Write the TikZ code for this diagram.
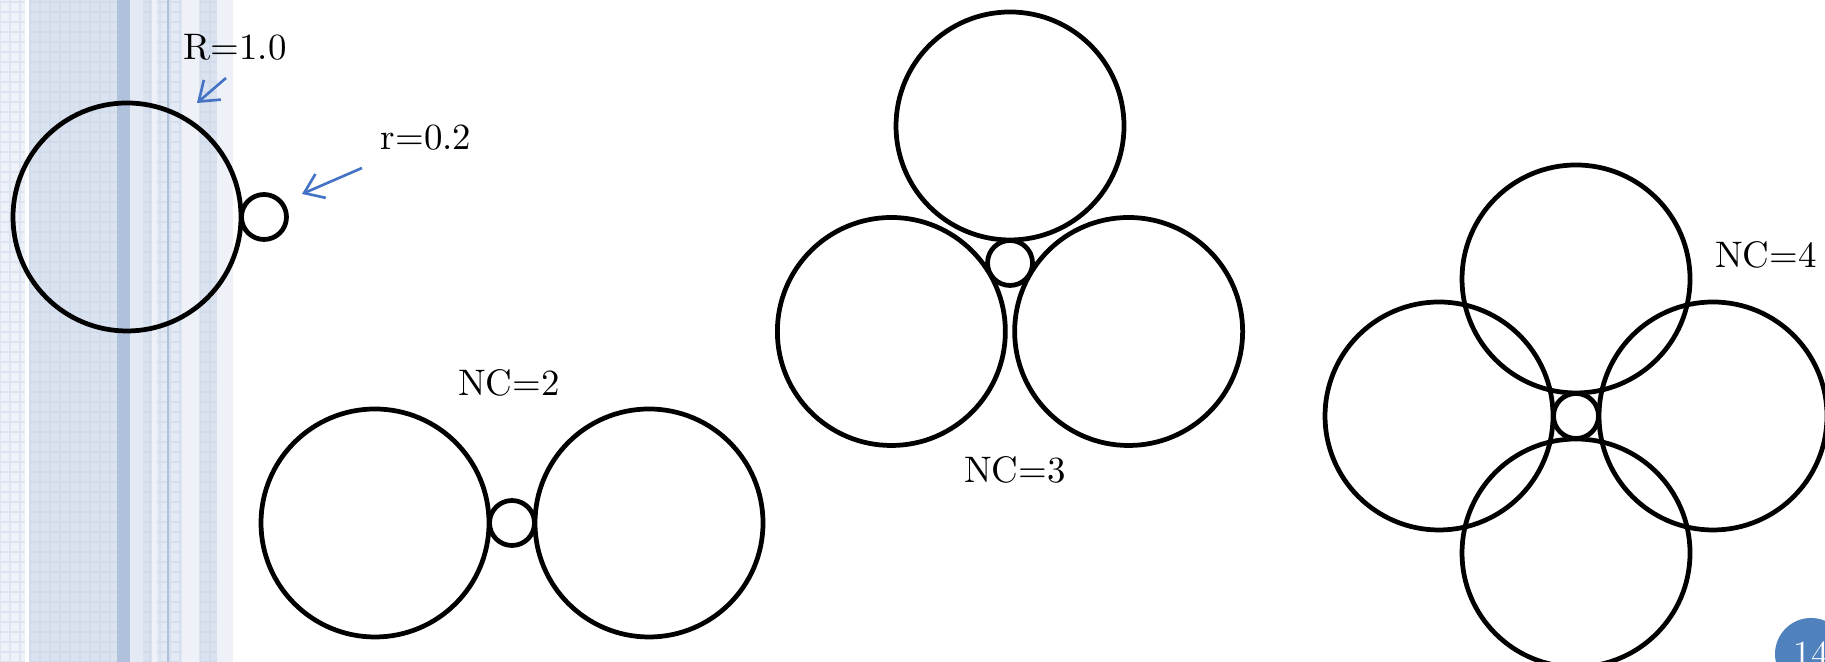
\documentclass[tikz,border=0pt]{standalone}
\usepackage{tikz}
\usetikzlibrary{arrows.meta,calc}

\definecolor{bandpale}{RGB}{238,242,248}
\definecolor{bandmid}{RGB}{218,226,239}
\definecolor{bandsolid}{RGB}{176,193,220}
\definecolor{bandsoft}{RGB}{228,234,244}
\definecolor{bandgrid}{RGB}{198,211,231}
\definecolor{ptrblue}{RGB}{68,114,196}
\definecolor{pageblue}{RGB}{79,129,189}

\begin{document}
\begin{tikzpicture}[
  font=\fontsize{10.5}{12.6}\selectfont,
  big/.style={draw,circle,line width=1.35pt,minimum size=2.28cm,inner sep=0pt},
  small/.style={draw,circle,line width=1.35pt,minimum size=0.45cm,inner sep=0pt},
  lbl/.style={inner sep=1pt},
  pointer/.style={-{Straight Barb[length=1.8mm,width=2.6mm]},draw=ptrblue,line width=0.75pt},
  gridline/.style={draw=bandgrid,line width=0.35pt},
  pagedot/.style={circle,fill=pageblue,text=white,minimum size=0.72cm,inner sep=0pt,
                  font=\fontsize{10}{12}\selectfont}
]
\useasboundingbox (0,0) rectangle (18.25,6.62);
\clip (0,0) rectangle (18.25,6.62);

% side bands of the slide
\foreach \xa/\xb/\col in {0/0.25/bandpale, 0.29/1.17/bandmid, 1.17/1.30/bandsolid,
    1.30/1.43/bandsoft, 1.43/1.52/bandmid, 1.52/1.57/bandpale, 1.57/1.67/bandsoft,
    1.67/1.69/bandsolid, 1.69/1.82/bandsoft, 1.82/2.00/bandpale, 2.00/2.17/bandmid,
    2.17/2.33/bandpale}
  \fill[\col] (\xa,0) rectangle (\xb,6.62);
\foreach \xa/\xb in {0/0.25, 0.29/1.17, 1.43/1.52, 1.57/1.67, 1.69/1.82, 2.00/2.17}
  \draw[gridline,opacity=0.45] (\xa,0) grid[step=0.1] (\xb,6.62);

% single pair
\node[big] (c1) at (1.27,4.45) {};
\node[small] (s1) at ($(c1)+(1.37,0)$) {};
\node[lbl] (lblR) at (2.35,6.15) {R=1.0};
\node[lbl] (lblr) at (4.26,5.24) {r=0.2};
\coordinate (tailR) at (2.26,5.84);
\coordinate (tipR) at (1.97,5.59);
\coordinate (tailr) at (3.62,4.94);
\coordinate (tipr) at (3.02,4.68);
\draw[pointer] (tailR) -- (tipR);
\draw[pointer] (tailr) -- (tipr);

% NC=2
\node[small] (s2) at (5.12,1.39) {};
\node[big] (b2-1) at ($(s2)+(180:1.37)$) {};
\node[big] (b2-2) at ($(s2)+(0:1.37)$) {};
\node[lbl] (nc2) at (5.09,2.79) {NC=2};

% NC=3
\node[small] (s3) at (10.10,3.99) {};
\foreach \a in {90,210,330}
  \node[big] (b3-\a) at ($(s3)+(\a:1.37)$) {};
\node[lbl] (nc3) at (10.15,1.92) {NC=3};

% NC=4
\node[small] (s4) at (15.76,2.46) {};
\foreach \a in {0,90,180,270}
  \node[big] (b4-\a) at ($(s4)+(\a:1.37)$) {};
\node[lbl] (nc4) at (17.66,4.07) {NC=4};

\node[pagedot] (pg) at (18.11,0.08) {14};
\end{tikzpicture}
\end{document}
